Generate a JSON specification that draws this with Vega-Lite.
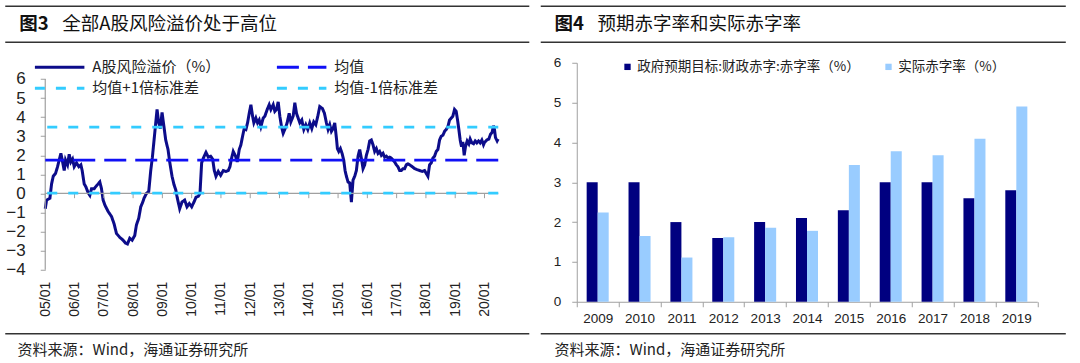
{
"$schema": "https://vega.github.io/schema/vega-lite/v6.json",
"background": "white",
"padding": {"left": 4.25, "top": 4.75, "right": 0, "bottom": 0},
"spacing": 9.5,
"datasets": {
"risk": [
{"t":2005.000,"v":-0.8},{"t":2005.045,"v":-0.35},{"t":2005.159,"v":-0.25},{"t":2005.216,"v":0.5},{"t":2005.273,"v":0.9},{"t":2005.352,"v":1.05},{"t":2005.420,"v":1.4},{"t":2005.477,"v":1.75},{"t":2005.534,"v":2.1},{"t":2005.580,"v":1.75},{"t":2005.648,"v":1.2},{"t":2005.693,"v":1.75},{"t":2005.761,"v":1.5},{"t":2005.818,"v":2.05},{"t":2005.875,"v":1.65},{"t":2005.932,"v":1.8},{"t":2005.989,"v":1.4},{"t":2006.068,"v":1.6},{"t":2006.148,"v":1.4},{"t":2006.216,"v":1.5},{"t":2006.261,"v":1.2},{"t":2006.330,"v":0.5},{"t":2006.386,"v":0.35},{"t":2006.466,"v":0.03},{"t":2006.523,"v":-0.1},{"t":2006.580,"v":0.25},{"t":2006.670,"v":0.25},{"t":2006.750,"v":0.4},{"t":2006.807,"v":0.5},{"t":2006.864,"v":0.6},{"t":2006.920,"v":0.25},{"t":2006.977,"v":-0.35},{"t":2007.034,"v":-0.6},{"t":2007.148,"v":-0.95},{"t":2007.261,"v":-1.2},{"t":2007.352,"v":-1.6},{"t":2007.432,"v":-2.1},{"t":2007.545,"v":-2.3},{"t":2007.659,"v":-2.45},{"t":2007.739,"v":-2.6},{"t":2007.807,"v":-2.65},{"t":2007.886,"v":-2.35},{"t":2007.966,"v":-2.45},{"t":2008.057,"v":-2.2},{"t":2008.114,"v":-1.65},{"t":2008.193,"v":-1.3},{"t":2008.261,"v":-0.7},{"t":2008.318,"v":-0.5},{"t":2008.375,"v":-0.25},{"t":2008.455,"v":0.0},{"t":2008.534,"v":0.1},{"t":2008.602,"v":1.2},{"t":2008.659,"v":1.9},{"t":2008.716,"v":2.8},{"t":2008.773,"v":3.7},{"t":2008.818,"v":4.4},{"t":2008.875,"v":3.7},{"t":2008.932,"v":3.4},{"t":2008.989,"v":4.25},{"t":2009.045,"v":3.6},{"t":2009.114,"v":2.8},{"t":2009.193,"v":2.3},{"t":2009.250,"v":1.65},{"t":2009.330,"v":0.9},{"t":2009.398,"v":0.45},{"t":2009.455,"v":0.2},{"t":2009.511,"v":-0.25},{"t":2009.591,"v":-0.8},{"t":2009.670,"v":-0.45},{"t":2009.761,"v":-0.35},{"t":2009.841,"v":-0.7},
{"t":2009.920,"v":-0.53},{"t":2010.000,"v":-0.7},{"t":2010.080,"v":-0.45},{"t":2010.148,"v":-0.2},{"t":2010.227,"v":-0.15},{"t":2010.284,"v":0.0},{"t":2010.341,"v":1.6},{"t":2010.398,"v":1.85},{"t":2010.489,"v":2.15},{"t":2010.568,"v":1.9},{"t":2010.648,"v":1.95},{"t":2010.716,"v":1.8},{"t":2010.773,"v":1.2},{"t":2010.830,"v":0.9},{"t":2010.909,"v":1.15},{"t":2010.989,"v":0.95},{"t":2011.080,"v":1.2},{"t":2011.170,"v":1.15},{"t":2011.250,"v":1.2},{"t":2011.307,"v":1.4},{"t":2011.364,"v":1.85},{"t":2011.420,"v":2.2},{"t":2011.500,"v":1.95},{"t":2011.557,"v":1.65},{"t":2011.625,"v":2.3},{"t":2011.682,"v":2.55},{"t":2011.739,"v":3.0},{"t":2011.795,"v":3.4},{"t":2011.852,"v":3.35},{"t":2011.909,"v":3.7},{"t":2011.966,"v":4.2},{"t":2012.023,"v":4.65},{"t":2012.080,"v":4.05},{"t":2012.125,"v":3.7},{"t":2012.193,"v":3.95},{"t":2012.250,"v":3.7},{"t":2012.307,"v":3.85},{"t":2012.364,"v":3.5},{"t":2012.443,"v":3.95},{"t":2012.500,"v":4.05},{"t":2012.580,"v":4.4},{"t":2012.648,"v":4.65},{"t":2012.705,"v":4.4},{"t":2012.784,"v":4.65},{"t":2012.841,"v":4.3},{"t":2012.898,"v":4.4},{"t":2012.955,"v":4.8},{"t":2013.011,"v":4.05},{"t":2013.068,"v":3.5},{"t":2013.125,"v":3.15},{"t":2013.193,"v":3.4},{"t":2013.261,"v":3.7},{"t":2013.330,"v":4.2},{"t":2013.386,"v":3.75},{"t":2013.466,"v":4.05},{"t":2013.523,"v":4.75},{"t":2013.580,"v":4.2},{"t":2013.636,"v":3.95},{"t":2013.693,"v":3.7},{"t":2013.761,"v":3.85},{"t":2013.830,"v":3.35},{"t":2013.898,"v":3.6},{"t":2013.966,"v":3.35},{"t":2014.034,"v":3.7},{"t":2014.102,"v":3.4},{"t":2014.170,"v":3.75},{"t":2014.239,"v":3.6},{"t":2014.307,"v":4.05},{"t":2014.375,"v":4.55},
{"t":2014.466,"v":4.45},{"t":2014.534,"v":4.2},{"t":2014.602,"v":3.7},{"t":2014.659,"v":3.35},{"t":2014.716,"v":3.6},{"t":2014.773,"v":3.25},{"t":2014.830,"v":3.4},{"t":2014.886,"v":3.7},{"t":2014.943,"v":2.9},{"t":2014.977,"v":2.35},{"t":2015.023,"v":2.2},{"t":2015.080,"v":2.35},{"t":2015.136,"v":2.1},{"t":2015.193,"v":1.75},{"t":2015.239,"v":1.2},{"t":2015.284,"v":0.9},{"t":2015.341,"v":0.6},{"t":2015.398,"v":0.55},{"t":2015.455,"v":-0.45},{"t":2015.511,"v":0.7},{"t":2015.568,"v":0.9},{"t":2015.625,"v":1.2},{"t":2015.682,"v":1.95},{"t":2015.739,"v":2.3},{"t":2015.795,"v":1.85},{"t":2015.852,"v":1.3},{"t":2015.909,"v":1.5},{"t":2015.966,"v":2.0},{"t":2016.023,"v":2.3},{"t":2016.080,"v":2.75},{"t":2016.136,"v":2.8},{"t":2016.193,"v":2.55},{"t":2016.250,"v":2.2},{"t":2016.307,"v":2.35},{"t":2016.364,"v":2.1},{"t":2016.420,"v":2.2},{"t":2016.477,"v":2.0},{"t":2016.534,"v":2.1},{"t":2016.591,"v":1.9},{"t":2016.648,"v":1.95},{"t":2016.705,"v":1.85},{"t":2016.761,"v":1.9},{"t":2016.818,"v":1.85},{"t":2016.875,"v":1.75},{"t":2016.932,"v":1.65},{"t":2016.989,"v":1.5},{"t":2017.045,"v":1.4},{"t":2017.102,"v":1.2},{"t":2017.159,"v":1.2},{"t":2017.216,"v":1.3},{"t":2017.273,"v":1.3},{"t":2017.330,"v":1.5},{"t":2017.386,"v":1.55},{"t":2017.443,"v":1.5},{"t":2017.534,"v":1.4},{"t":2017.614,"v":1.3},{"t":2017.693,"v":1.25},{"t":2017.784,"v":1.2},{"t":2017.875,"v":1.15},{"t":2017.955,"v":1.2},{"t":2018.011,"v":1.05},{"t":2018.068,"v":0.9},{"t":2018.125,"v":1.5},{"t":2018.182,"v":1.6},{"t":2018.239,"v":1.85},{"t":2018.295,"v":1.95},{"t":2018.352,"v":2.2},{"t":2018.409,"v":2.3},{"t":2018.466,"v":2.8},{"t":2018.523,"v":3.0},{"t":2018.580,"v":3.05},{"t":2018.636,"v":3.25},{"t":2018.693,"v":3.35},{"t":2018.750,"v":3.5},{"t":2018.807,"v":3.85},{"t":2018.864,"v":3.95},{"t":2018.920,"v":4.05},{"t":2018.977,"v":4.4},{"t":2019.034,"v":4.3},{"t":2019.080,"v":3.85},{"t":2019.125,"v":3.35},{"t":2019.170,"v":2.8},{"t":2019.216,"v":2.45},{"t":2019.261,"v":2.7},{"t":2019.307,"v":2.0},{"t":2019.352,"v":2.45},{"t":2019.409,"v":2.75},{"t":2019.466,"v":2.6},{"t":2019.511,"v":2.85},{"t":2019.568,"v":2.65},{"t":2019.625,"v":2.6},{"t":2019.682,"v":2.75},{"t":2019.739,"v":2.65},{"t":2019.795,"v":2.75},{"t":2019.852,"v":2.65},{"t":2019.909,"v":2.8},{"t":2019.966,"v":2.55},{"t":2020.000,"v":2.67},{"t":2020.080,"v":2.8},{"t":2020.148,"v":2.85},{"t":2020.205,"v":3.1},{"t":2020.261,"v":3.2},{"t":2020.307,"v":3.55},{"t":2020.341,"v":3.35},{"t":2020.375,"v":2.93},{"t":2020.432,"v":2.75},{"t":2020.466,"v":2.85}
],
"bands": [
{"series":"均值","value":1.75},
{"series":"均值+1倍标准差","value":3.48},
{"series":"均值-1倍标准差","value":0.02}
],
"years": [{"t":2005},{"t":2006},{"t":2007},{"t":2008},{"t":2009},{"t":2010},{"t":2011},{"t":2012},{"t":2013},{"t":2014},{"t":2015},{"t":2016},{"t":2017},{"t":2018},{"t":2019},{"t":2020}],
"deficit": [
{"year":"2009","series":"政府预期目标:财政赤字:赤字率（%）","value":3.0},{"year":"2009","series":"实际赤字率（%）","value":2.24},
{"year":"2010","series":"政府预期目标:财政赤字:赤字率（%）","value":3.0},{"year":"2010","series":"实际赤字率（%）","value":1.65},
{"year":"2011","series":"政府预期目标:财政赤字:赤字率（%）","value":2.0},{"year":"2011","series":"实际赤字率（%）","value":1.11},
{"year":"2012","series":"政府预期目标:财政赤字:赤字率（%）","value":1.6},{"year":"2012","series":"实际赤字率（%）","value":1.62},
{"year":"2013","series":"政府预期目标:财政赤字:赤字率（%）","value":2.0},{"year":"2013","series":"实际赤字率（%）","value":1.86},
{"year":"2014","series":"政府预期目标:财政赤字:赤字率（%）","value":2.1},{"year":"2014","series":"实际赤字率（%）","value":1.78},
{"year":"2015","series":"政府预期目标:财政赤字:赤字率（%）","value":2.3},{"year":"2015","series":"实际赤字率（%）","value":3.43},
{"year":"2016","series":"政府预期目标:财政赤字:赤字率（%）","value":3.0},{"year":"2016","series":"实际赤字率（%）","value":3.78},
{"year":"2017","series":"政府预期目标:财政赤字:赤字率（%）","value":3.0},{"year":"2017","series":"实际赤字率（%）","value":3.68},
{"year":"2018","series":"政府预期目标:财政赤字:赤字率（%）","value":2.6},{"year":"2018","series":"实际赤字率（%）","value":4.09},
{"year":"2019","series":"政府预期目标:财政赤字:赤字率（%）","value":2.8},{"year":"2019","series":"实际赤字率（%）","value":4.9}
]
},
"hconcat": [
{
"width": 453,
"height": 239,
"layer": [
{
"data": {"name": "risk"},
"mark": {"type": "line", "strokeWidth": 3, "interpolate": "linear"},
"encoding": {
"x": {"field": "t", "type": "quantitative",
"scale": {"domain": [2005, 2020.47], "nice": false, "zero": false},
"axis": {"values": [2005,2006,2007,2008,2009,2010,2011,2012,2013,2014,2015,2016,2017,2018,2019,2020],
"labelExpr": "format(datum.value - 2000, '02d') + '/01'",
"labelAngle": 270, "offset": -20.5, "domain": false, "ticks": false, "tickSize": 0,
"labelPadding": 0, "labelFontSize": 14, "labelFlush": false, "labelOverlap": false, "title": null, "grid": false}},
"y": {"field": "v", "type": "quantitative",
"scale": {"domain": [-5.677, 6.849], "nice": false, "zero": false},
"axis": {"values": [-4,-3,-2,-1,0,1,2,3,4,5,6], "domain": false, "tickSize": 5, "labelOverlap": false, "labelFlush": false,
"labelPadding": 15, "labelFontSize": 17, "title": null, "grid": false}},
"color": {"datum": "A股风险溢价（%）", "type": "nominal",
"scale": {"domain": ["A股风险溢价（%）","均值+1倍标准差","均值","均值-1倍标准差"],
"range": ["#0C0C8A","#33CCFF","#1010F5","#33CCFF"]},
"legend": {"orient": "none", "legendX": 5.4, "legendY": -4.5, "columns": 2, "columnPadding": 50, "rowPadding": 4,
"symbolType": "M-3.5,0H3.5", "symbolSize": 200, "symbolStrokeWidth": 3, "labelFont": "Noto Sans CJK SC",
"labelFontSize": 15, "labelColor": "#222", "labelOffset": 23.7, "title": null, "padding": 0}},
"strokeDash": {"datum": "A股风险溢价（%）", "type": "nominal",
"scale": {"domain": ["A股风险溢价（%）","均值+1倍标准差","均值","均值-1倍标准差"],
"range": [[1,0],[10,11],[22,9],[10,11]]},
"legend": {"orient": "none", "legendX": 5.4, "legendY": -4.5, "columns": 2, "columnPadding": 50, "rowPadding": 4,
"symbolType": "M-3.5,0H3.5", "symbolSize": 200, "symbolStrokeWidth": 3, "labelFont": "Noto Sans CJK SC",
"labelFontSize": 15, "labelColor": "#222", "labelOffset": 23.7, "title": null, "padding": 0}}
}
},
{
"data": {"values": [{}]},
"mark": {"type": "rule", "color": "#A0A0A0", "strokeWidth": 1.2},
"encoding": {"y": {"datum": 0, "type": "quantitative", "axis": null}}
},
{
"data": {"name": "years"},
"mark": {"type": "rule", "color": "#A0A0A0", "strokeWidth": 1},
"encoding": {"x": {"field": "t", "type": "quantitative", "axis": null}, "y": {"datum": 0, "type": "quantitative", "axis": null}, "y2": {"datum": -0.25}}
},
{
"data": {"values": [{}]},
"mark": {"type": "rule", "color": "#A0A0A0", "strokeWidth": 1.2},
"encoding": {"x": {"datum": 2005, "type": "quantitative", "axis": null}, "y": {"datum": -4, "type": "quantitative", "axis": null}, "y2": {"datum": 6}}
},
{
"data": {"name": "bands"},
"mark": {"type": "rule", "strokeWidth": 2.7},
"encoding": {
"y": {"field": "value", "type": "quantitative", "axis": null},
"color": {"field": "series", "type": "nominal", "legend": {"title": null}},
"strokeDash": {"field": "series", "type": "nominal", "legend": {"title": null}}
}
},
{
"data": {"values": [{}]},
"layer": [
{"mark": {"type": "rule", "color": "#333", "strokeWidth": 1.5},
"encoding": {"x": {"datum": 2003.634, "type": "quantitative", "axis": null}, "x2": {"datum": 2021.53}, "y": {"datum": 9.81, "type": "quantitative", "axis": null}}},
{"mark": {"type": "rule", "color": "#333", "strokeWidth": 1.5},
"encoding": {"x": {"datum": 2003.634, "type": "quantitative", "axis": null}, "x2": {"datum": 2021.53}, "y": {"datum": 7.923, "type": "quantitative", "axis": null}}},
{"mark": {"type": "rule", "color": "#333", "strokeWidth": 1.5},
"encoding": {"x": {"datum": 2003.634, "type": "quantitative", "axis": null}, "x2": {"datum": 2021.53}, "y": {"datum": -7.354, "type": "quantitative", "axis": null}}},
{"mark": {"type": "text", "text": "图3", "font": "Noto Sans CJK SC", "fontSize": 18.5, "fontWeight": "bold", "align": "left", "baseline": "middle", "color": "#111"},
"encoding": {"x": {"datum": 2004.109, "type": "quantitative", "axis": null}, "y": {"datum": 8.867, "type": "quantitative", "axis": null}}},
{"mark": {"type": "text", "text": "全部A股风险溢价处于高位", "font": "Noto Sans CJK SC", "fontSize": 18.5, "align": "left", "baseline": "middle", "color": "#111"},
"encoding": {"x": {"datum": 2005.581, "type": "quantitative", "axis": null}, "y": {"datum": 8.867, "type": "quantitative", "axis": null}}},
{"mark": {"type": "text", "text": "资料来源：Wind，海通证券研究所", "font": "Noto Sans CJK SC", "fontSize": 15, "align": "left", "baseline": "middle", "color": "#222"},
"encoding": {"x": {"datum": 2004.051, "type": "quantitative", "axis": null}, "y": {"datum": -8.193, "type": "quantitative", "axis": null}}}
]
}
],
"resolve": {"axis": {"x": "independent", "y": "independent"}}
},
{
"width": 460.5,
"height": 239,
"layer": [
{
"data": {"name": "deficit"},
"mark": {"type": "bar"},
"encoding": {
"x": {"field": "year", "type": "nominal", "scale": {"paddingInner": 0, "paddingOuter": 0},
"axis": {"tickBand": "extent", "labelAngle": 0, "labelFontSize": 13.5, "labelPadding": 5, "tickSize": 5, "title": null, "grid": false}},
"xOffset": {"field": "series", "type": "nominal",
"scale": {"domain": ["政府预期目标:财政赤字:赤字率（%）","实际赤字率（%）"], "paddingOuter": 0.9, "paddingInner": 0}},
"y": {"field": "value", "type": "quantitative", "scale": {"domain": [0, 6], "nice": false},
"axis": {"values": [0,1,2,3,4,5,6], "tickSize": 5, "labelPadding": 11, "labelFontSize": 13.5, "labelOverlap": false, "labelFlush": false, "title": null, "grid": false}},
"color": {"field": "series", "type": "nominal",
"scale": {"domain": ["政府预期目标:财政赤字:赤字率（%）","实际赤字率（%）"], "range": ["#000080","#99CCFF"]},
"legend": {"orient": "none", "legendX": 44, "legendY": -3, "direction": "horizontal", "symbolType": "square",
"symbolSize": 40, "symbolStrokeWidth": 0, "labelFont": "Noto Sans CJK SC", "labelFontSize": 13.5, "labelColor": "#222",
"labelOffset": 3, "columnPadding": 22, "labelLimit": 400, "title": null, "padding": 0}}
}
},
{
"data": {"values": [{}]},
"layer": [
{"mark": {"type": "rule", "color": "#333", "strokeWidth": 1.5},
"encoding": {"x": {"datum": -0.86, "type": "quantitative", "scale": {"domain": [0, 11], "nice": false, "zero": false}, "axis": null}, "x2": {"datum": 11.682}, "y": {"datum": 7.419, "type": "quantitative", "axis": null}}},
{"mark": {"type": "rule", "color": "#333", "strokeWidth": 1.5},
"encoding": {"x": {"datum": -0.86, "type": "quantitative", "axis": null}, "x2": {"datum": 11.682}, "y": {"datum": 6.515, "type": "quantitative", "axis": null}}},
{"mark": {"type": "rule", "color": "#333", "strokeWidth": 1.5},
"encoding": {"x": {"datum": -0.86, "type": "quantitative", "axis": null}, "x2": {"datum": 11.682}, "y": {"datum": -0.803, "type": "quantitative", "axis": null}}},
{"mark": {"type": "text", "text": "图4", "font": "Noto Sans CJK SC", "fontSize": 18.5, "fontWeight": "bold", "align": "left", "baseline": "middle", "color": "#111"},
"encoding": {"x": {"datum": -0.53, "type": "quantitative", "axis": null}, "y": {"datum": 6.967, "type": "quantitative", "axis": null}}},
{"mark": {"type": "text", "text": "预期赤字率和实际赤字率", "font": "Noto Sans CJK SC", "fontSize": 18.5, "align": "left", "baseline": "middle", "color": "#111"},
"encoding": {"x": {"datum": 0.497, "type": "quantitative", "axis": null}, "y": {"datum": 6.967, "type": "quantitative", "axis": null}}},
{"mark": {"type": "text", "text": "资料来源：Wind，海通证券研究所", "font": "Noto Sans CJK SC", "fontSize": 15, "align": "left", "baseline": "middle", "color": "#222"},
"encoding": {"x": {"datum": -0.53, "type": "quantitative", "axis": null}, "y": {"datum": -1.205, "type": "quantitative", "axis": null}}}
]
}
],
"resolve": {"scale": {"x": "independent"}, "axis": {"y": "independent"}}
}
],
"resolve": {"scale": {"x": "independent", "y": "independent", "color": "independent", "strokeDash": "independent"}},
"config": {
"view": {"stroke": null},
"axis": {"grid": false, "domainColor": "#A0A0A0", "tickColor": "#A0A0A0", "labelColor": "#222", "labelFont": "Liberation Sans"},
"legend": {"labelLimit": 400}
}
}
